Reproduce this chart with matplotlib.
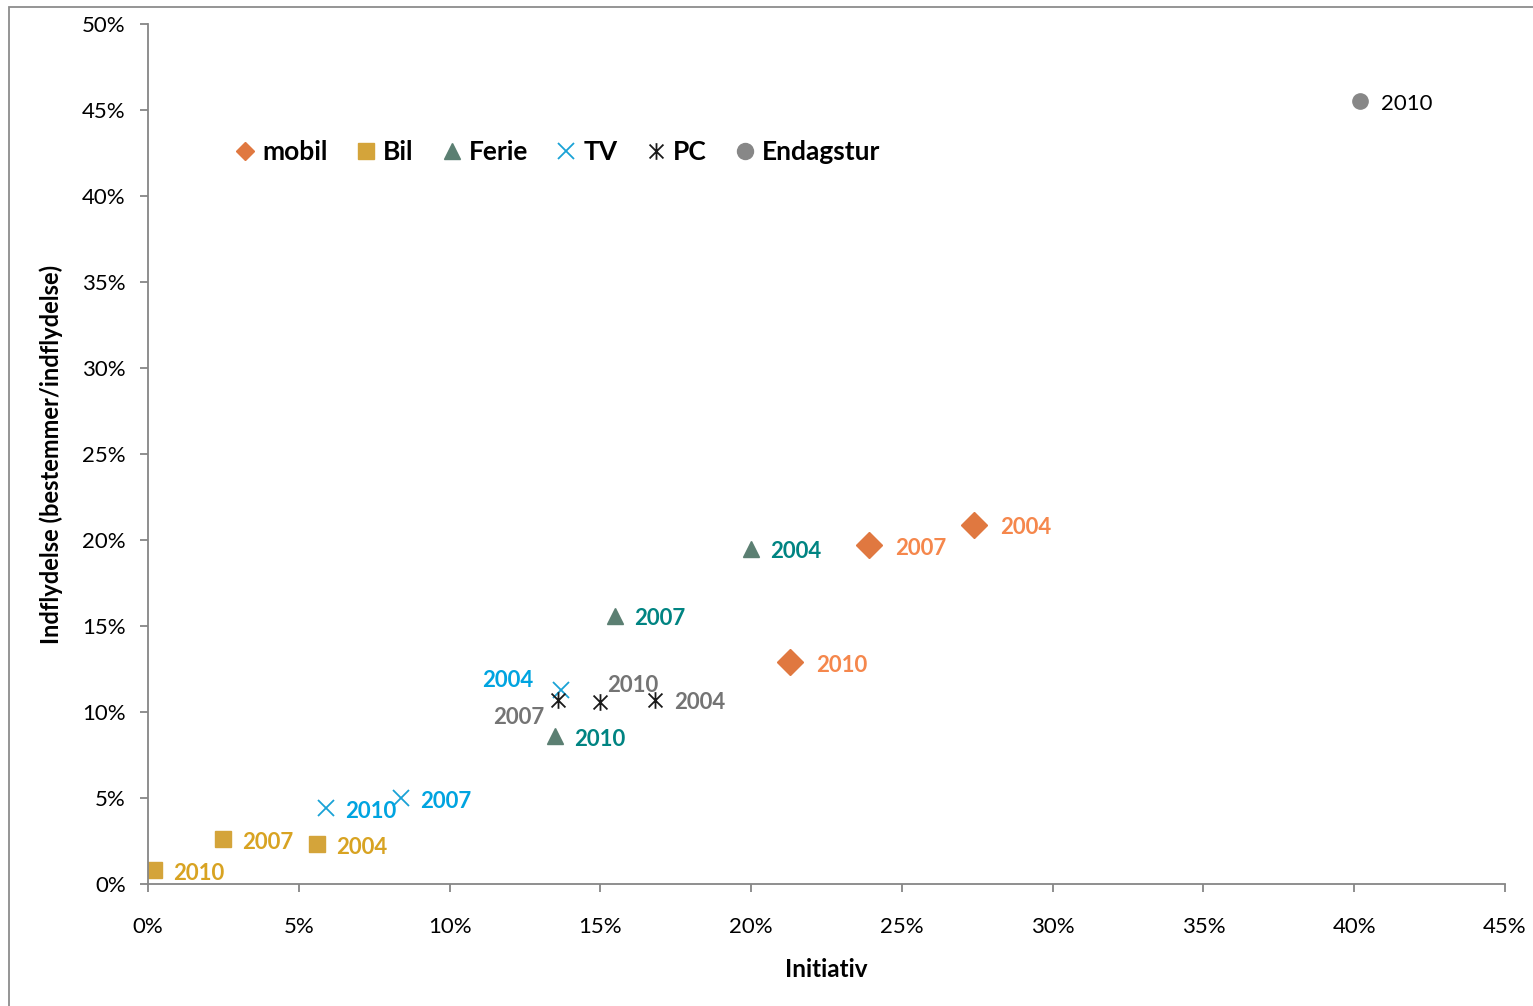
import matplotlib
matplotlib.use("Agg")
import matplotlib.pyplot as plt
from matplotlib.path import Path
from matplotlib.patches import Rectangle
from matplotlib.ticker import FuncFormatter, MultipleLocator

plt.rcParams['font.family'] = ['Lato', 'DejaVu Sans']

# Initiative (x) and influence (y) in percent, per product and survey year
mobil_years = ["2004", "2007", "2010"]
mobil_x = [27.4, 23.9, 21.3]
mobil_y = [20.9, 19.7, 12.9]

bil_years = ["2004", "2007", "2010"]
bil_x = [5.6, 2.5, 0.2]
bil_y = [2.3, 2.6, 0.8]

ferie_years = ["2004", "2007", "2010"]
ferie_x = [20.0, 15.5, 13.5]
ferie_y = [19.5, 15.6, 8.6]

tv_years = ["2004", "2007", "2010"]
tv_x = [13.7, 8.4, 5.9]
tv_y = [11.3, 5.0, 4.4]

pc_years = ["2004", "2007", "2010"]
pc_x = [16.8, 13.6, 15.0]
pc_y = [10.7, 10.7, 10.6]

endagstur_years = ["2010"]
endagstur_x = [40.2]
endagstur_y = [45.5]

# Asterisk marker: an x with a vertical stroke
star_path = Path(
    [(-0.5, -0.5), (0.5, 0.5), (-0.5, 0.5), (0.5, -0.5), (0, -0.6), (0, 0.6)],
    [Path.MOVETO, Path.LINETO, Path.MOVETO, Path.LINETO, Path.MOVETO, Path.LINETO],
)

fig = plt.figure(figsize=(15.33, 10.06), dpi=100)
ax = fig.add_axes([148 / 1533, 122 / 1006, 1357 / 1533, 860 / 1006])

# Outer chart frame
fig.patches.append(Rectangle((9 / 1533, -0.02), 1.05, 999 / 1006 + 0.02,
                             transform=fig.transFigure, fill=False,
                             edgecolor="#8c8c8c", linewidth=1.3))

# name, x, y, years, marker style, label colour, label weight, label gap (px), legend marker size
series = [
    ("mobil", mobil_x, mobil_y, mobil_years, dict(marker="D", markersize=13, color="#E07840"), "#F5874C", "bold", 26, 8.8),
    ("Bil", bil_x, bil_y, bil_years, dict(marker="s", markersize=11, color="#D4A43A"), "#D8A322", "bold", 19, 11),
    ("Ferie", ferie_x, ferie_y, ferie_years, dict(marker="^", markersize=11, color="#5B7F72"), "#008482", "bold", 19, 11),
    ("TV", tv_x, tv_y, tv_years, dict(marker="x", markersize=11, color="#1AA2D6", markeredgewidth=1.3), "#00A4E0", "bold", 19, 11),
    ("PC", pc_x, pc_y, pc_years, dict(marker=star_path, markersize=12, color="#1a1a1a", markeredgewidth=1.3), "#747474", "bold", 20, 12),
    ("Endagstur", endagstur_x, endagstur_y, endagstur_years, dict(marker="o", markersize=11, color="#878787"), "#000000", "normal", 21, 11.5),
]

# Label placements that differ from the default right-hand position
offsets = {
    ("TV", "2004"): ((-28, 9), "right"),
    ("PC", "2007"): ((-14, -18), "right"),
    ("PC", "2010"): ((7, 16), "left"),
}

legend_sizes = []
for name, xs, ys, years, mstyle, lcolor, weight, gap, lsize in series:
    ax.plot(xs, ys, linestyle="none", label=name, **mstyle)
    legend_sizes.append(lsize)
    for x, y, yr in zip(xs, ys, years):
        (dx, dy), ha = offsets.get((name, yr), ((gap, -3), "left"))
        ax.annotate(yr, (x, y), xytext=(dx, dy), textcoords="offset pixels",
                    ha=ha, va="center", fontsize=16, fontweight=weight, color=lcolor)

ax.set_xlim(0, 45)
ax.set_ylim(0, 50)
ax.xaxis.set_major_locator(MultipleLocator(5))
ax.yaxis.set_major_locator(MultipleLocator(5))
pct = FuncFormatter(lambda v, p: f"{v:.0f}%")
ax.xaxis.set_major_formatter(pct)
ax.yaxis.set_major_formatter(pct)

for s in ("top", "right"):
    ax.spines[s].set_visible(False)
for s in ("left", "bottom"):
    ax.spines[s].set_color("#868686")
    ax.spines[s].set_linewidth(1.3)
ax.tick_params(axis="both", direction="out", length=6, width=1.3, color="#868686",
               labelsize=16, labelcolor="#000000")
ax.tick_params(axis="y", pad=10)
ax.tick_params(axis="x", pad=18)

ax.set_xlabel("Initiativ", fontsize=17.5, fontweight="bold", labelpad=15)
ax.set_ylabel("Indflydelse (bestemmer/indflydelse)", fontsize=17, fontweight="bold", labelpad=14)

leg = ax.legend(loc="center left", bbox_to_anchor=(0.0558, 0.851), ncol=6, frameon=False,
                prop={"weight": "bold", "size": 19}, handlelength=0.8,
                handletextpad=0.25, columnspacing=1.05, borderaxespad=0)
for handle, size in zip(leg.legend_handles, legend_sizes):
    handle.set_markersize(size)

fig.savefig("out.png", dpi=100)
